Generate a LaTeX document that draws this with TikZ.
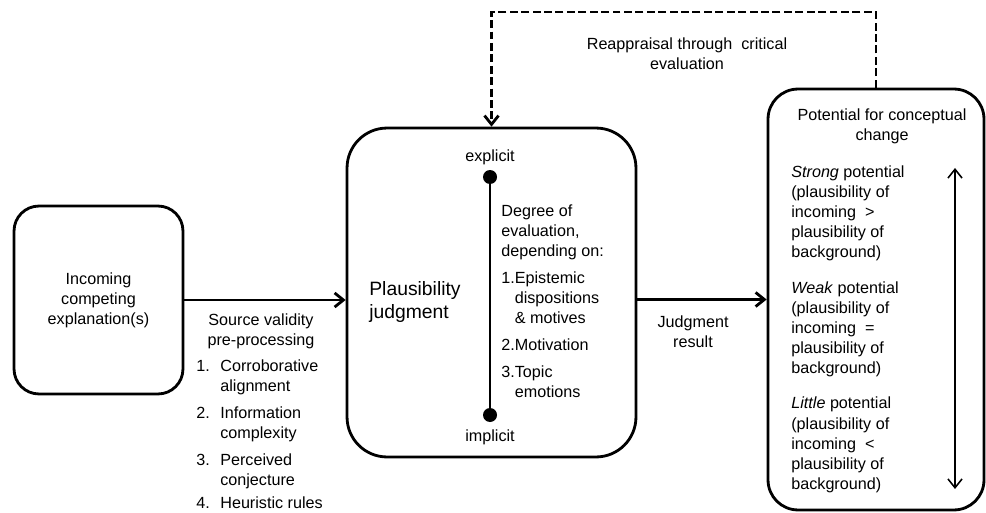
\documentclass[tikz,border=0pt]{standalone}
\usepackage{fontspec}
\setmainfont{Liberation Sans}
\usetikzlibrary{arrows.meta,positioning}

\begin{document}
\begin{tikzpicture}[
  x=0.02cm,y=-0.02cm,
  font=\fontsize{9.2}{11.4}\selectfont,
  >={Straight Barb[length=5pt,width=8pt]},
  stage/.style={draw,line width=1.6pt,inner sep=0pt,align=center},
  flow/.style={->,line width=1.6pt},
  loopback/.style={->,line width=1.6pt,dash pattern=on 4.5pt off 2pt},
  caption/.style={align=center,inner sep=0pt},
  listing/.style={align=left,inner sep=0pt,anchor=north west},
  pole/.style={circle,fill,minimum size=0.28cm,inner sep=0pt}
]
\useasboundingbox (0,0) rectangle (986,513);

% Stage 1: incoming explanation.
\node[stage,rounded corners=0.5cm,minimum width=3.38cm,minimum height=3.76cm]
  (incoming) at (98.5,300) {Incoming\\competing\\explanation(s)};

% Stage 2: plausibility judgment with its explicit/implicit scale.
\node[stage,rounded corners=0.8cm,minimum width=5.78cm,minimum height=6.58cm]
  (judgment) at (491.5,292.5) {};
\node[caption,font=\fontsize{11}{13}\selectfont,anchor=west,align=left]
  (plausible) at (369,302) {Plausibility\\judgment};
\node[pole] (explicitpole) at (490,177) {};
\node[pole] (implicitpole) at (490,415) {};
\draw[line width=1.2pt] (explicitpole) -- (implicitpole);
\node[caption] (explicit) at (490,157) {explicit};
\node[caption] (implicit) at (490,437) {implicit};
\node[listing] (degree) at (501,204)
  {Degree of\\evaluation,\\depending on:\\[4pt]
   1.Epistemic\\\hphantom{1.}dispositions\\\hphantom{1.}\& motives\\[4pt]
   2.Motivation\\[4pt]
   3.Topic\\\hphantom{1.}emotions};

% Stage 3: potential for conceptual change.
\node[stage,rounded corners=0.6cm,minimum width=4.32cm,minimum height=8.42cm]
  (change) at (876,299.5) {};
\node[caption] (changetitle) at (882,126) {Potential for\ conceptual\\change};
\node[listing] (levels) at (791,165)
  {\textit{Strong} potential\\(plausibility of\\incoming \ >\\plausibility of\\background)\\[9pt]
   \textit{Weak} potential\\(plausibility of\\incoming \ =\\plausibility of\\background)\\[9pt]
   \textit{Little} potential\\(plausibility of\\incoming \ <\\plausibility of\\background)};
\coordinate (strongend) at (955,168);
\coordinate (littleend) at (955,489);
\draw[<->,line width=0.9pt] (littleend) -- (strongend);

% Connectors and their labels.
\draw[flow] (incoming.east) -- (incoming.east -| judgment.west);
\node[caption] (source) at (261,331) {Source validity\\pre-processing};
\node[listing] (rules) at (196,359)
  {\makebox[0.48cm][l]{1.}Corroborative\\\hspace*{0.48cm}alignment\\[4pt]
   \makebox[0.48cm][l]{2.}Information\\\hspace*{0.48cm}complexity\\[4pt]
   \makebox[0.48cm][l]{3.}Perceived\\\hspace*{0.48cm}conjecture\\[2pt]
   \makebox[0.48cm][l]{4.}Heuristic rules};

\draw[flow] (judgment.east |- change.west) -- (change.west);
\node[caption] (result) at (693,332) {Judgment\\result};

\coordinate (bend) at (491.5,12);
\draw[loopback] (change.north) |- (bend) -- (judgment.north);
\node[caption] (reappraisal) at (687,54) {Reappraisal through\ \ critical\\evaluation};
\end{tikzpicture}
\end{document}
